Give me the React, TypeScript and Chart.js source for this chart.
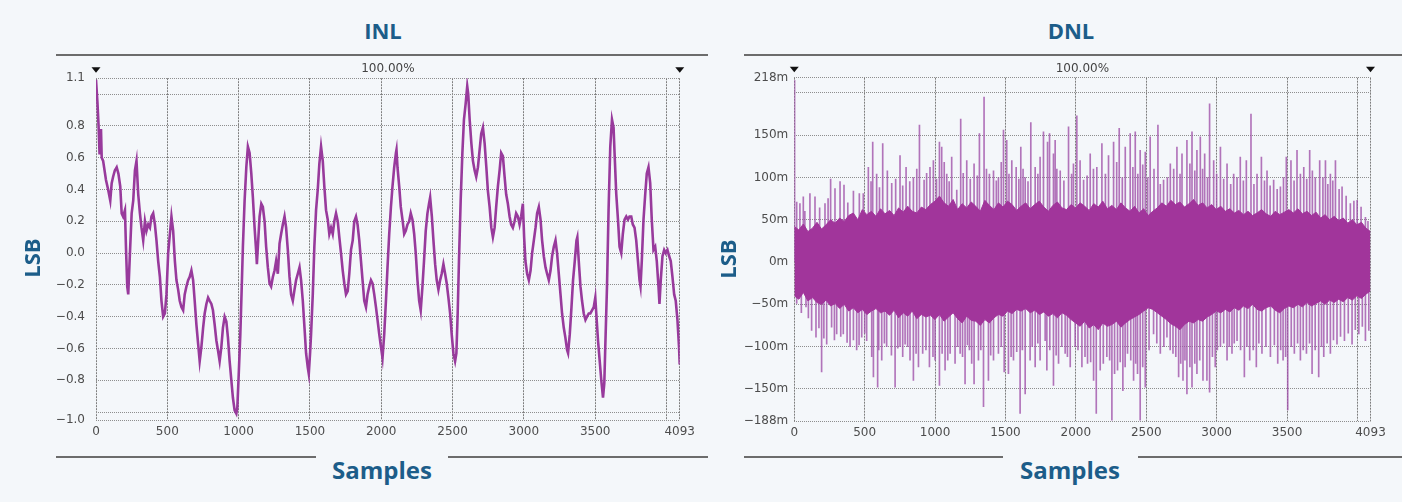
import React, { useEffect, useRef } from 'react';
import { Chart, registerables } from 'chart.js';

Chart.register(...registerables);

// ---------- shared axis data ----------
const SAMPLE_MAX = 4093;
const X_TICKS = [0, 500, 1000, 1500, 2000, 2500, 3000, 3500, 4000, 4093];
const X_LABELS = ['0', '500', '1000', '1500', '2000', '2500', '3000', '3500', '', '4093'];
const MARKERS = [0, 4093];
const ZOOM_LABEL = '100.00%';

// ---------- INL ----------
const INL_Y_MIN = -1.05;
const INL_Y_MAX = 1.1;
const INL_Y_TICKS = [-1.05, -1.0, -0.8, -0.6, -0.4, -0.2, 0, 0.2, 0.4, 0.6, 0.8, 1.0, 1.1];
const INL_Y_LABELS = ['−1.0', '', '−0.8', '−0.6', '−0.4', '−0.2', '0.0', '0.2', '0.4', '0.6', '0.8', '', '1.1'];

// [sample, LSB]
const INL_POINTS: [number, number][] = [
  [0, 1.09], [10, 0.95], [18, 0.8], [25, 0.62], [30, 0.77], [35, 0.78], [40, 0.6], [50, 0.58], [70, 0.46], [85, 0.4],
  [100, 0.33], [110, 0.44], [120, 0.48], [132, 0.52], [145, 0.54], [157, 0.5], [170, 0.42], [180, 0.25], [190, 0.23], [203, 0.27],
  [210, 0.04], [219, -0.21], [226, -0.26], [238, 0.0], [250, 0.25], [261, 0.33], [273, 0.52], [284, 0.58], [296, 0.37], [308, 0.25],
  [319, 0.16], [331, 0.08], [343, 0.2], [354, 0.14], [366, 0.18], [378, 0.16], [389, 0.23], [401, 0.25], [413, 0.18], [424, 0.08],
  [436, -0.05], [448, -0.15], [459, -0.3], [471, -0.4], [483, -0.38], [494, -0.26], [506, 0.0], [518, 0.12], [529, 0.23], [541, 0.14],
  [553, -0.05], [564, -0.17], [576, -0.23], [587, -0.3], [599, -0.34], [611, -0.36], [622, -0.26], [634, -0.21], [646, -0.17], [657, -0.15],
  [669, -0.11], [681, -0.17], [692, -0.3], [704, -0.45], [716, -0.57], [727, -0.68], [739, -0.59], [751, -0.47], [762, -0.38], [774, -0.32],
  [786, -0.28], [797, -0.3], [809, -0.32], [820, -0.36], [832, -0.45], [844, -0.55], [855, -0.61], [867, -0.68], [879, -0.59], [890, -0.47],
  [902, -0.4], [914, -0.43], [925, -0.53], [937, -0.68], [949, -0.8], [960, -0.91], [972, -0.99], [984, -1.01], [991, -0.97], [1000, -0.78],
  [1012, -0.51], [1021, -0.24], [1030, 0.04], [1042, 0.33], [1054, 0.54], [1065, 0.67], [1077, 0.63], [1089, 0.5], [1100, 0.35], [1112, 0.16],
  [1124, 0.0], [1128, -0.07], [1135, 0.04], [1147, 0.23], [1159, 0.31], [1170, 0.29], [1182, 0.2], [1193, 0.04], [1205, -0.09], [1217, -0.19],
  [1228, -0.21], [1240, -0.15], [1252, -0.11], [1263, -0.05], [1275, -0.13], [1287, 0.06], [1298, 0.12], [1310, 0.18], [1322, 0.23], [1333, 0.16],
  [1345, 0.02], [1357, -0.15], [1368, -0.26], [1380, -0.3], [1392, -0.23], [1403, -0.17], [1415, -0.13], [1427, -0.09], [1438, -0.17], [1450, -0.3],
  [1462, -0.47], [1473, -0.63], [1485, -0.72], [1492, -0.76], [1501, -0.63], [1508, -0.51], [1520, -0.26], [1531, 0.04], [1543, 0.27], [1555, 0.4],
  [1566, 0.56], [1578, 0.67], [1590, 0.58], [1601, 0.42], [1613, 0.27], [1625, 0.21], [1636, 0.12], [1648, 0.16], [1660, 0.12], [1671, 0.2],
  [1683, 0.25], [1695, 0.2], [1706, 0.1], [1718, 0.0], [1730, -0.11], [1741, -0.19], [1753, -0.26], [1765, -0.24], [1776, -0.13], [1788, 0.02],
  [1800, 0.08], [1811, 0.2], [1823, 0.23], [1834, 0.18], [1846, 0.08], [1858, -0.05], [1869, -0.17], [1881, -0.3], [1893, -0.34], [1904, -0.26],
  [1916, -0.21], [1928, -0.17], [1939, -0.19], [1951, -0.26], [1963, -0.34], [1974, -0.42], [1986, -0.51], [1998, -0.59], [2009, -0.66], [2021, -0.51],
  [2033, -0.3], [2044, -0.09], [2056, 0.12], [2068, 0.29], [2079, 0.42], [2091, 0.54], [2103, 0.63], [2107, 0.65], [2114, 0.54], [2126, 0.42],
  [2137, 0.29], [2149, 0.21], [2161, 0.12], [2172, 0.14], [2184, 0.18], [2196, 0.2], [2207, 0.25], [2219, 0.21], [2231, 0.12], [2242, 0.0],
  [2254, -0.17], [2266, -0.3], [2277, -0.36], [2289, -0.21], [2300, -0.05], [2312, 0.14], [2324, 0.25], [2335, 0.31], [2343, 0.35], [2355, 0.23],
  [2366, 0.08], [2378, -0.07], [2389, -0.17], [2401, -0.23], [2413, -0.17], [2424, -0.13], [2436, -0.07], [2448, -0.13], [2459, -0.19], [2471, -0.28],
  [2483, -0.38], [2494, -0.51], [2506, -0.63], [2518, -0.68], [2527, -0.63], [2536, -0.38], [2545, -0.05], [2557, 0.33], [2569, 0.63], [2580, 0.84],
  [2592, 0.94], [2603, 1.05], [2610, 1.0], [2620, 0.84], [2632, 0.69], [2643, 0.58], [2655, 0.52], [2666, 0.48], [2678, 0.54], [2690, 0.65],
  [2701, 0.75], [2713, 0.79], [2725, 0.69], [2737, 0.54], [2748, 0.39], [2760, 0.29], [2772, 0.16], [2783, 0.1], [2795, 0.16], [2806, 0.29],
  [2818, 0.42], [2830, 0.52], [2841, 0.63], [2853, 0.61], [2865, 0.48], [2876, 0.37], [2888, 0.31], [2900, 0.23], [2911, 0.18], [2923, 0.16],
  [2935, 0.2], [2946, 0.25], [2958, 0.23], [2970, 0.18], [2981, 0.23], [2993, 0.31], [3002, 0.1], [3011, -0.05], [3023, -0.13], [3035, -0.17],
  [3047, -0.11], [3058, 0.0], [3070, 0.08], [3082, 0.16], [3093, 0.25], [3105, 0.29], [3117, 0.21], [3128, 0.08], [3140, -0.02], [3152, -0.09],
  [3163, -0.13], [3175, -0.17], [3187, -0.11], [3198, -0.02], [3210, 0.04], [3222, 0.08], [3233, 0.0], [3245, -0.13], [3257, -0.26], [3268, -0.38],
  [3280, -0.47], [3291, -0.53], [3303, -0.61], [3310, -0.63], [3322, -0.51], [3334, -0.34], [3345, -0.17], [3357, -0.05], [3369, 0.08], [3375, 0.1],
  [3385, -0.05], [3397, -0.21], [3408, -0.3], [3420, -0.38], [3432, -0.42], [3443, -0.4], [3455, -0.38], [3466, -0.38], [3478, -0.36], [3490, -0.34],
  [3501, -0.28], [3508, -0.38], [3520, -0.55], [3532, -0.68], [3543, -0.8], [3555, -0.91], [3564, -0.82], [3571, -0.59], [3583, -0.21], [3594, 0.27],
  [3606, 0.67], [3618, 0.84], [3629, 0.79], [3636, 0.63], [3648, 0.37], [3660, 0.21], [3671, 0.04], [3683, 0.0], [3694, 0.12], [3706, 0.21],
  [3718, 0.23], [3730, 0.21], [3741, 0.23], [3753, 0.23], [3764, 0.18], [3776, 0.16], [3788, 0.08], [3800, -0.05], [3811, -0.17], [3818, -0.21],
  [3827, -0.05], [3839, 0.21], [3851, 0.37], [3862, 0.5], [3874, 0.54], [3886, 0.44], [3897, 0.21], [3909, 0.02], [3921, 0.04], [3932, -0.05],
  [3944, -0.21], [3951, -0.32], [3960, -0.17], [3972, -0.02], [3984, 0.02], [3995, 0.0], [4007, 0.02], [4019, -0.02], [4030, -0.05], [4042, -0.15],
  [4054, -0.26], [4065, -0.3], [4077, -0.42], [4088, -0.59], [4093, -0.7],
];

// ---------- DNL (values in mLSB) ----------
const DNL_Y_MIN = -188;
const DNL_Y_MAX = 218;
const DNL_Y_TICKS = [-188, -150, -100, -50, 0, 50, 100, 150, 200, 218];
const DNL_Y_LABELS = ['−188m', '−150m', '−100m', '−50m', '0m', '50m', '100m', '150m', '', '218m'];

// dense core band, upper edge at evenly spaced points across 0..4093
const DNL_CORE_HI = [
  42, 38, 45, 36, 40, 47, 39, 44, 50, 46,
  52, 48, 55, 58, 50, 62, 56, 60, 54, 63,
  57, 61, 55, 64, 59, 66, 60, 58, 65, 62,
  68, 72, 78, 70, 66, 74, 62, 69, 64, 71,
  66, 60, 73, 67, 62, 70, 65, 72, 68, 61,
  66, 70, 63, 68, 72, 65, 60, 67, 71, 64,
  62, 68, 64, 70, 66, 61, 69, 65, 72, 63,
  67, 62, 70, 64, 60, 66, 58, 63, 55, 60,
  64, 70, 66, 73, 68, 71, 65, 69, 74, 67,
  70, 64, 68, 62, 66, 60, 63, 58, 61, 56,
  60, 55, 58, 62, 57, 54, 60, 56, 59, 62,
  58, 63, 57, 60, 55, 59, 52, 56, 50, 54,
  49, 52, 46, 50, 44, 47, 40, 36,
];
// dense core band, lower edge at the same points
const DNL_CORE_LO = [
  -40, -44, -36, -46, -42, -48, -50, -45, -52, -49,
  -55, -50, -58, -54, -60, -56, -62, -58, -55, -60,
  -58, -63, -57, -66, -60, -64, -58, -67, -62, -65,
  -63, -68, -62, -70, -65, -60, -67, -72, -64, -69,
  -70, -75, -68, -72, -66, -62, -64, -58, -61, -56,
  -58, -55, -60, -57, -62, -59, -64, -61, -66, -60,
  -63, -68, -72, -76, -70, -78, -74, -80, -72, -76,
  -74, -70, -77, -72, -68, -65, -62, -58, -54, -56,
  -60, -64, -68, -73, -76, -80, -74, -70, -72, -68,
  -70, -65, -62, -58, -60, -56, -59, -54, -57, -52,
  -55, -50, -56, -58, -54, -52, -57, -60, -55, -52,
  -54, -50, -53, -48, -52, -49, -46, -50, -45, -48,
  -44, -47, -42, -45, -40, -43, -38, -34,
];

// individual spikes [sample, mLSB]
const DNL_UP_SPIKES: [number, number][] = [
  [2, 215], [17, 71], [40, 69], [64, 77], [75, 60], [111, 81], [147, 77], [180, 64], [218, 69], [240, 75],
  [258, 98], [289, 87], [325, 95], [353, 91], [380, 70], [420, 84], [462, 81], [490, 81], [526, 112], [545, 95],
  [557, 142], [585, 104], [605, 88], [628, 140], [661, 108], [692, 93], [720, 98], [751, 126], [770, 90], [794, 112],
  [820, 95], [846, 100], [870, 110], [889, 162], [922, 97], [940, 105], [964, 112], [988, 120], [1010, 98], [1031, 142],
  [1047, 136], [1065, 118], [1083, 104], [1100, 95], [1118, 124], [1154, 85], [1182, 169], [1200, 105], [1225, 120], [1250, 98],
  [1277, 116], [1300, 102], [1315, 152], [1348, 195], [1365, 110], [1386, 104], [1415, 108], [1435, 96], [1450, 100], [1470, 118],
  [1486, 156], [1509, 144], [1525, 104], [1545, 120], [1576, 112], [1595, 98], [1609, 136], [1625, 110], [1640, 100], [1660, 95],
  [1680, 165], [1711, 112], [1730, 104], [1746, 124], [1770, 154], [1799, 142], [1813, 152], [1841, 128], [1853, 144], [1865, 110],
  [1889, 108], [1915, 96], [1948, 160], [1970, 104], [1983, 116], [2007, 173], [2030, 120], [2055, 97], [2080, 102], [2102, 128],
  [2125, 110], [2149, 112], [2185, 140], [2210, 104], [2232, 126], [2268, 142], [2290, 118], [2308, 158], [2330, 100], [2351, 136],
  [2386, 152], [2405, 112], [2422, 154], [2440, 104], [2457, 132], [2475, 115], [2493, 130], [2510, 100], [2528, 148], [2555, 110],
  [2583, 162], [2600, 92], [2623, 97], [2650, 100], [2671, 116], [2695, 110], [2718, 136], [2740, 104], [2754, 128], [2789, 144],
  [2810, 116], [2825, 154], [2845, 108], [2860, 132], [2884, 148], [2900, 110], [2915, 128], [2935, 100], [2950, 187], [2979, 120],
  [3000, 104], [3027, 136], [3050, 98], [3074, 116], [3100, 92], [3121, 104], [3145, 100], [3168, 124], [3190, 96], [3211, 120],
  [3244, 175], [3265, 92], [3287, 104], [3318, 124], [3340, 96], [3358, 108], [3380, 90], [3405, 97], [3430, 86], [3453, 89],
  [3475, 100], [3495, 124], [3528, 120], [3550, 96], [3571, 132], [3595, 104], [3619, 112], [3640, 98], [3661, 132], [3680, 108],
  [3701, 100], [3732, 120], [3755, 100], [3773, 120], [3790, 92], [3808, 104], [3825, 96], [3844, 120], [3870, 86], [3891, 89],
  [3920, 78], [3950, 69], [3975, 72], [3998, 73], [4026, 65], [4057, 53], [4075, 48],
];
const DNL_DOWN_SPIKES: [number, number][] = [
  [17, -49], [50, -60], [83, -53], [100, -66], [123, -81], [154, -89], [175, -78], [194, -130], [210, -90], [230, -97],
  [265, -77], [285, -92], [301, -85], [330, -88], [348, -85], [375, -95], [396, -100], [420, -92], [443, -104], [460, -98],
  [479, -89], [500, -84], [514, -93], [550, -112], [562, -136], [592, -148], [600, -104], [621, -116], [640, -96], [656, -100],
  [690, -110], [716, -148], [735, -102], [751, -100], [770, -112], [787, -97], [805, -100], [822, -116], [846, -140], [865, -108],
  [882, -124], [912, -108], [935, -104], [960, -124], [985, -112], [1000, -116], [1031, -146], [1050, -108], [1071, -128], [1090, -116],
  [1107, -108], [1142, -120], [1160, -100], [1178, -108], [1195, -112], [1213, -144], [1230, -98], [1244, -104], [1260, -120], [1277, -144],
  [1308, -116], [1325, -104], [1344, -171], [1379, -140], [1395, -110], [1415, -116], [1450, -108], [1470, -100], [1491, -130], [1521, -132],
  [1540, -112], [1557, -116], [1580, -106], [1604, -179], [1620, -104], [1640, -156], [1675, -116], [1690, -100], [1711, -124], [1730, -96],
  [1746, -116], [1782, -93], [1794, -128], [1815, -104], [1841, -146], [1860, -110], [1877, -120], [1900, -100], [1924, -108], [1940, -112],
  [1960, -124], [1995, -100], [2015, -104], [2043, -124], [2065, -112], [2083, -120], [2105, -118], [2126, -140], [2145, -179], [2173, -128],
  [2195, -120], [2220, -112], [2240, -116], [2256, -187], [2275, -132], [2296, -128], [2315, -118], [2334, -152], [2350, -124], [2367, -108],
  [2390, -116], [2410, -140], [2425, -120], [2438, -132], [2457, -187], [2475, -124], [2493, -148], [2520, -104], [2552, -85], [2575, -96],
  [2600, -108], [2625, -100], [2647, -89], [2670, -104], [2690, -108], [2710, -112], [2730, -136], [2745, -120], [2761, -140], [2775, -116],
  [2789, -156], [2810, -124], [2825, -148], [2845, -120], [2860, -132], [2880, -116], [2903, -140], [2931, -140], [2950, -154], [2970, -112],
  [2990, -124], [3005, -104], [3027, -100], [3050, -96], [3074, -116], [3090, -100], [3109, -108], [3125, -96], [3145, -93], [3170, -104],
  [3197, -136], [3215, -100], [3235, -116], [3260, -104], [3282, -124], [3300, -96], [3322, -108], [3350, -100], [3382, -112], [3410, -98],
  [3434, -120], [3455, -104], [3472, -116], [3490, -112], [3505, -175], [3530, -100], [3552, -108], [3575, -96], [3595, -116], [3615, -104],
  [3638, -108], [3660, -96], [3678, -132], [3700, -104], [3725, -136], [3745, -100], [3761, -112], [3785, -96], [3808, -108], [3830, -92],
  [3855, -97], [3880, -88], [3908, -93], [3935, -84], [3962, -97], [3985, -80], [4010, -85], [4035, -76], [4057, -93], [4081, -81],
];

// ---------- styles ----------
const BG = '#f4f7fa';
const HEAD_COLOR = '#1c5d89';
const RULE_COLOR = '#6c6c6c';
const TICK_COLOR = '#4c4c4c';
const TICK_FONT = { family: '"DejaVu Sans", sans-serif', size: 12 };
const HEAD_FONT = '"Open Sans", "Noto Sans", sans-serif';
const TRACE = '#983a9c';
const CORE = '#a1359b';
const SPIKE = 'rgba(160, 82, 170, 0.8)';

const topMarkers = {
  id: 'topMarkers',
  afterDraw(chart: any) {
    const { ctx, chartArea, scales } = chart;
    ctx.save();
    ctx.fillStyle = '#111';
    for (const m of MARKERS) {
      const x = scales.x.getPixelForValue(m);
      const yb = chartArea.top - 5.5;
      ctx.beginPath();
      ctx.moveTo(x - 4.5, yb - 5.5);
      ctx.lineTo(x + 4.5, yb - 5.5);
      ctx.lineTo(x, yb);
      ctx.closePath();
      ctx.fill();
    }
    ctx.fillStyle = '#444';
    ctx.font = '12px "DejaVu Sans", sans-serif';
    ctx.textAlign = 'center';
    ctx.textBaseline = 'middle';
    ctx.fillText(ZOOM_LABEL, (chartArea.left + chartArea.right) / 2, chartArea.top - 9);
    ctx.restore();
  },
};

function makeScales(yMin: number, yMax: number, yTicks: number[], yLabels: string[], yWidth: number, yPad: number, xHeight: number) {
  return {
    x: {
      type: 'linear',
      min: 0,
      max: SAMPLE_MAX,
      offset: false,
      afterBuildTicks: (ax: any) => { ax.ticks = X_TICKS.map((v) => ({ value: v })); },
      afterFit: (ax: any) => { ax.height = xHeight; },
      ticks: {
        autoSkip: false, maxRotation: 0, minRotation: 0, padding: 5,
        color: TICK_COLOR, font: TICK_FONT,
        callback: (_v: any, i: number) => X_LABELS[i],
      },
      grid: { color: '#7e7e7e', lineWidth: 1, drawTicks: false, offset: false },
      border: { display: false, dash: [2, 1] },
    },
    y: {
      type: 'linear',
      min: yMin,
      max: yMax,
      afterBuildTicks: (ax: any) => { ax.ticks = yTicks.map((v) => ({ value: v })); },
      afterFit: (ax: any) => { ax.width = yWidth; },
      ticks: {
        autoSkip: false, padding: yPad,
        color: TICK_COLOR, font: TICK_FONT,
        callback: (_v: any, i: number) => yLabels[i],
      },
      grid: { color: '#8e8e8e', lineWidth: 1, drawTicks: false },
      border: { display: false, dash: [1, 1] },
    },
  };
}

const headStyle = (cx: number, cy: number, size: number): React.CSSProperties => ({
  position: 'absolute', left: cx - 150, top: cy - size * 0.7, width: 300, textAlign: 'center',
  fontFamily: HEAD_FONT, fontWeight: 700, fontSize: size, lineHeight: `${size * 1.4}px`, color: HEAD_COLOR,
  whiteSpace: 'nowrap',
});
const rule = (x1: number, x2: number, y: number): React.CSSProperties => ({
  position: 'absolute', left: x1, top: y - 1, width: x2 - x1, height: 2, background: RULE_COLOR,
});
const lsbStyle = (cx: number, cy: number): React.CSSProperties => ({
  position: 'absolute', left: cx - 40, top: cy - 15, width: 80, height: 30, lineHeight: '30px', textAlign: 'center',
  fontFamily: HEAD_FONT, fontWeight: 700, fontSize: 22, color: HEAD_COLOR, transform: 'rotate(-90deg)',
});

export default function App() {
  const inlRef = useRef<HTMLCanvasElement>(null);
  const dnlRef = useRef<HTMLCanvasElement>(null);

  useEffect(() => {
    const inl = new Chart(inlRef.current as HTMLCanvasElement, {
      type: 'line',
      data: {
        datasets: [{
          label: 'INL',
          data: INL_POINTS.map(([x, y]) => ({ x, y })),
          borderColor: TRACE,
          borderWidth: 2.6,
          pointRadius: 0,
          tension: 0,
          fill: false,
        }],
      },
      options: {
        responsive: false,
        animation: false,
        layout: { padding: { left: 0, right: 18.7, top: 18, bottom: 0 } },
        plugins: { legend: { display: false }, tooltip: { enabled: false }, title: { display: false } },
        scales: makeScales(INL_Y_MIN, INL_Y_MAX, INL_Y_TICKS, INL_Y_LABELS, 96, 11, 30) as any,
      },
      plugins: [topMarkers],
    } as any);

    // envelope points spread evenly over the full sample range
    const coreStep = SAMPLE_MAX / (DNL_CORE_HI.length - 1);
    const coreX = DNL_CORE_HI.map((_, i) => i * coreStep);

    const dnl = new Chart(dnlRef.current as HTMLCanvasElement, {
      type: 'bar',
      data: {
        datasets: [
          {
            type: 'line',
            label: 'DNL core high',
            data: DNL_CORE_HI.map((y, i) => ({ x: coreX[i], y })),
            borderColor: CORE,
            backgroundColor: CORE,
            borderWidth: 1,
            pointRadius: 0,
            tension: 0,
            fill: '+1',
          },
          {
            type: 'line',
            label: 'DNL core low',
            data: DNL_CORE_LO.map((y, i) => ({ x: coreX[i], y })),
            borderColor: CORE,
            borderWidth: 1,
            pointRadius: 0,
            tension: 0,
            fill: false,
          },
          {
            label: 'DNL up',
            data: DNL_UP_SPIKES.map(([x, y]) => ({ x, y })),
            backgroundColor: SPIKE,
            borderWidth: 0,
            barThickness: 1,
            grouped: false,
          },
          {
            label: 'DNL down',
            data: DNL_DOWN_SPIKES.map(([x, y]) => ({ x, y })),
            backgroundColor: SPIKE,
            borderWidth: 0,
            barThickness: 1,
            grouped: false,
          },
        ],
      },
      options: {
        responsive: false,
        animation: false,
        layout: { padding: { left: 0, right: 31.5, top: 17.7, bottom: 0 } },
        plugins: { legend: { display: false }, tooltip: { enabled: false }, title: { display: false } },
        scales: makeScales(DNL_Y_MIN, DNL_Y_MAX, DNL_Y_TICKS, DNL_Y_LABELS, 94.3, 6, 29) as any,
      },
      plugins: [topMarkers],
    } as any);

    return () => { inl.destroy(); dnl.destroy(); };
  }, []);

  return (
    <div style={{ position: 'fixed', left: 0, top: 0, width: 1402, height: 502, background: BG, overflow: 'hidden' }}>
      <div style={headStyle(383, 30, 22)}>INL</div>
      <div style={headStyle(1071, 30, 22)}>DNL</div>
      <div style={rule(56, 708, 54.5)} />
      <div style={rule(744, 1402, 55)} />

      <canvas ref={inlRef} width={700} height={390} style={{ position: 'absolute', left: 0, top: 60, width: 700, height: 390 }} />
      <canvas ref={dnlRef} width={702} height={390} style={{ position: 'absolute', left: 700, top: 60, width: 702, height: 390 }} />

      <div style={lsbStyle(31, 258)}>LSB</div>
      <div style={lsbStyle(727, 259)}>LSB</div>

      <div style={rule(56, 316, 456.7)} />
      <div style={rule(448, 708, 456.7)} />
      <div style={rule(744, 1003, 456.7)} />
      <div style={rule(1138, 1402, 456.7)} />
      <div style={headStyle(382, 470, 24)}>Samples</div>
      <div style={headStyle(1070, 470, 24)}>Samples</div>
    </div>
  );
}
